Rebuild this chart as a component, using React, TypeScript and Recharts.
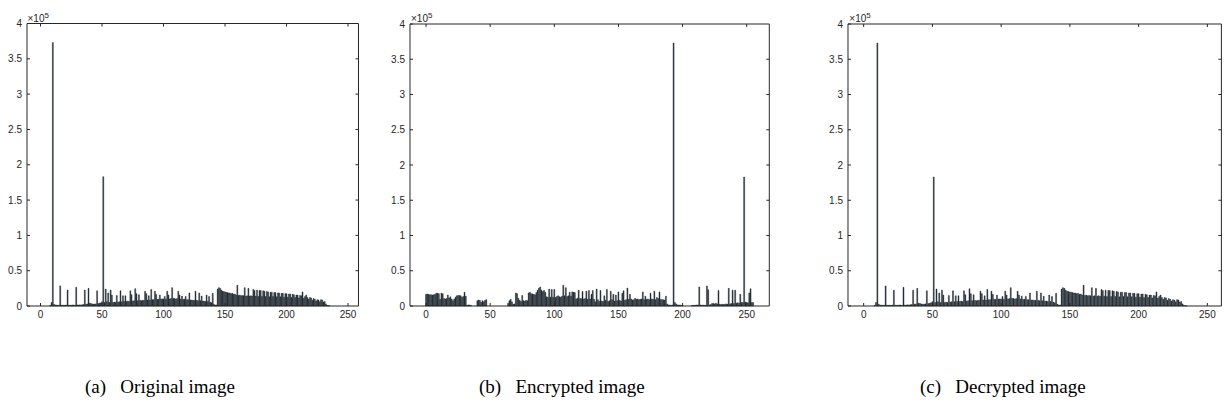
import React from "react";
import { BarChart, Bar, XAxis, YAxis, ReferenceLine } from "recharts";

// grey-level bins 0..255
const bins = Array.from({ length: 256 }, (_, i) => i);

// pixel counts per grey level
const originalCounts = [
  0, 0, 0, 0, 0, 0, 0, 0, 1000, 5000,
  373000, 2500, 1500, 1200, 1000, 1200, 28500, 1200, 1000, 1200,
  1000, 1300, 22500, 1200, 1000, 1200, 1500, 1300, 1200, 26500,
  1500, 1400, 1600, 1500, 1800, 2000, 22500, 2500, 3000, 25000,
  4000, 3500, 3000, 2500, 2800, 3000, 21500, 3500, 4000, 4500,
  6000, 183000, 5000, 24000, 6000, 18500, 5000, 22500, 15500, 5000,
  5500, 5000, 15000, 5500, 6000, 21500, 6000, 14500, 6500, 14500,
  6500, 7000, 6500, 21500, 16000, 7000, 7500, 24500, 17500, 7500,
  16000, 8000, 7500, 8000, 8000, 21000, 17500, 8500, 14500, 8500,
  23500, 9000, 9000, 21000, 16500, 9500, 9500, 15500, 10000, 10000,
  10000, 13500, 9500, 21000, 15500, 10000, 10500, 26000, 11000, 10500,
  10000, 10500, 21000, 15500, 10000, 14000, 9500, 9500, 13500, 9000,
  9000, 18500, 8500, 8500, 8000, 8000, 21000, 8000, 7500, 18500,
  7500, 14000, 7000, 7000, 6500, 15500, 6500, 13500, 5500, 4500,
  18000, 2500, 1500, 1500, 24000, 26000, 25000, 22500, 21000, 20500,
  20000, 19500, 19000, 18500, 18500, 17500, 18000, 16500, 17000, 15500,
  29500, 15000, 15500, 14500, 15000, 14500, 26000, 14000, 14500, 25000,
  14000, 14500, 14000, 23500, 22000, 14000, 22500, 13500, 22000, 22000,
  13500, 21500, 21000, 13500, 20500, 20000, 13000, 19500, 19500, 13500,
  19000, 19000, 13000, 18500, 18500, 13000, 18000, 18000, 12500, 17500,
  17500, 12500, 17000, 17000, 12000, 16500, 16000, 12000, 15500, 15500,
  11500, 15000, 14500, 20000, 11000, 13500, 15500, 12000, 9500, 12000,
  11500, 8000, 10500, 9500, 7000, 9000, 8500, 6000, 9000, 8500,
  5500, 6500, 3000, 1000, 500, 200, 0, 0, 0, 0,
  0, 0, 0, 0, 0, 0, 0, 0, 0, 0,
  0, 0, 0, 0, 0, 0,
];

// pixel counts of the encrypted image
const encryptedCounts = [
  16500, 17000, 16500, 16000, 16000, 15500, 16000, 16500, 18000, 18000,
  17500, 9500, 18000, 17500, 10500, 10000, 10500, 15500, 11500, 13000,
  10000, 7500, 10000, 12500, 14500, 15000, 15000, 14500, 12500, 13500,
  19500, 14000, 1000, 1500, 1500, 1000, 0, 0, 0, 0,
  7500, 8500, 8000, 5000, 7500, 6000, 8000, 9000, 0, 0,
  0, 0, 0, 0, 0, 0, 0, 0, 0, 0,
  0, 0, 0, 0, 4000, 7500, 9500, 6000, 2500, 3000,
  18500, 17500, 11000, 8000, 6500, 15000, 7500, 7000, 8000, 7500,
  18500, 19500, 17500, 17000, 16500, 16000, 19000, 22500, 25000, 27000,
  22500, 20500, 22000, 19500, 13000, 12500, 24000, 12500, 23500, 12500,
  23500, 12000, 13500, 14500, 13000, 12500, 14000, 29500, 14500, 26000,
  13500, 14500, 19500, 14000, 20000, 19500, 19000, 10000, 11000, 22500,
  10500, 10500, 20500, 10000, 10500, 21000, 9500, 22000, 10000, 16500,
  22000, 9500, 6000, 24000, 9000, 6500, 22000, 7000, 6500, 14500,
  8000, 23500, 6500, 7500, 21000, 9000, 16500, 7000, 15500, 7500,
  20000, 8000, 7000, 18000, 21500, 8000, 9000, 25500, 9500, 16500,
  10000, 8500, 9000, 11000, 9500, 10000, 9000, 9500, 10000, 20000,
  9000, 14000, 9500, 10000, 9000, 18000, 10000, 9500, 21000, 9000,
  12000, 10500, 20000, 9500, 9000, 9000, 8500, 14000, 3000, 1500,
  1500, 1000, 1500, 373000, 5000, 3000, 1500, 1500, 1500, 1000,
  1000, 0, 0, 0, 0, 0, 0, 500, 1000, 1000,
  1000, 1500, 1500, 27000, 1500, 1000, 1500, 1000, 1000, 28500,
  23000, 1500, 2000, 3500, 3500, 3000, 4000, 3000, 22000, 2500,
  2000, 2500, 2000, 2500, 3000, 2500, 25000, 3000, 3500, 22500,
  3500, 22500, 4000, 4500, 4000, 16500, 5000, 5000, 183000, 5500,
  5000, 4500, 18500, 24500, 5000, 5000,
];

// decryption restores the original histogram
const decryptedCounts = originalCounts;

const xTicks = [0, 50, 100, 150, 200, 250];
const yTicks = [0, 50000, 100000, 150000, 200000, 250000, 300000, 350000, 400000];
const Y_MAX = 400000;

const captions = ["(a)   Original image", "(b)   Encrypted image", "(c)   Decrypted image"];

const toRows = (counts: number[]) => bins.map((b) => ({ bin: b, count: counts[b] }));

const axisColor = "#262626";
const tickFont = { fontSize: 10, fill: axisColor, fontFamily: "Liberation Sans, Arial, sans-serif" };

type PanelProps = {
  counts: number[];
  plotLeft: number;
  plotRight: number;
  plotTop: number;
  domain: [number, number];
};

const Y_AXIS_W = 40;
const PLOT_BOTTOM = 306;
const TICK_PX = 3;

function Panel({ counts, plotLeft, plotRight, plotTop, domain }: PanelProps) {
  const width = plotRight - plotLeft + Y_AXIS_W + 1;
  const height = PLOT_BOTTOM + 20;
  // inward tick length for the top / right edges, in data units
  const yTickLen = (Y_MAX * TICK_PX) / (PLOT_BOTTOM - plotTop);
  const xTickLen = ((domain[1] - domain[0]) * TICK_PX) / (plotRight - plotLeft);
  return (
    <div style={{ position: "absolute", left: plotLeft - Y_AXIS_W, top: 0 }}>
      <BarChart
        width={width}
        height={height}
        data={toRows(counts)}
        margin={{ top: plotTop, right: 1, bottom: 0, left: 0 }}
        barCategoryGap="10%"
      >
        <XAxis
          dataKey="bin"
          type="number"
          domain={domain}
          allowDataOverflow
          ticks={xTicks}
          interval={0}
          height={20}
          tickSize={-3}
          tickMargin={8}
          stroke={axisColor}
          tick={tickFont}
        />
        <YAxis
          domain={[0, Y_MAX]}
          ticks={yTicks}
          interval={0}
          width={Y_AXIS_W}
          tickSize={-3}
          tickMargin={8}
          stroke={axisColor}
          tick={tickFont}
          tickFormatter={(v: number) => String(v / 100000)}
        />
        <Bar
          dataKey="count"
          fill="#2a3641"
          stroke="#151b21"
          strokeWidth={0.4}
          isAnimationActive={false}
        />
        <ReferenceLine y={Y_MAX} stroke={axisColor} ifOverflow="visible" />
        <ReferenceLine x={domain[1]} stroke={axisColor} ifOverflow="visible" />
        {xTicks.map((t) => (
          <ReferenceLine
            key={"tx" + t}
            segment={[
              { x: t, y: Y_MAX },
              { x: t, y: Y_MAX - yTickLen },
            ]}
            stroke={axisColor}
          />
        ))}
        {yTicks.slice(1, -1).map((t) => (
          <ReferenceLine
            key={"ty" + t}
            segment={[
              { x: domain[1], y: t },
              { x: domain[1] - xTickLen, y: t },
            ]}
            stroke={axisColor}
          />
        ))}
      </BarChart>
      <div
        style={{
          position: "absolute",
          left: Y_AXIS_W + 1,
          top: plotTop - 14,
          fontSize: 10,
          color: axisColor,
          fontFamily: "Liberation Sans, Arial, sans-serif",
          lineHeight: "12px",
        }}
      >
        ×10<sup style={{ fontSize: 8, verticalAlign: 4 }}>5</sup>
      </div>
    </div>
  );
}

const captionLeft = [85, 479, 920];

export default function App() {
  return (
    <div
      style={{
        position: "absolute",
        left: 0,
        top: 0,
        width: 1225,
        height: 414,
        background: "#fff",
        overflow: "hidden",
      }}
    >
      <Panel counts={originalCounts} plotLeft={26.5} plotRight={358} plotTop={23.5} domain={[-11, 258.5]} />
      <Panel counts={encryptedCounts} plotLeft={410} plotRight={769.3} plotTop={24} domain={[-12.5, 267.6]} />
      <Panel counts={decryptedCounts} plotLeft={848.3} plotRight={1221.7} plotTop={24} domain={[-11.4, 260.2]} />
      {captions.map((c, i) => (
        <div
          key={c}
          style={{
            position: "absolute",
            left: captionLeft[i],
            top: 375,
            fontSize: 19,
            fontFamily: "Liberation Serif, Times New Roman, serif",
            whiteSpace: "pre",
            color: "#000",
            lineHeight: "24px",
          }}
        >
          {c}
        </div>
      ))}
    </div>
  );
}
